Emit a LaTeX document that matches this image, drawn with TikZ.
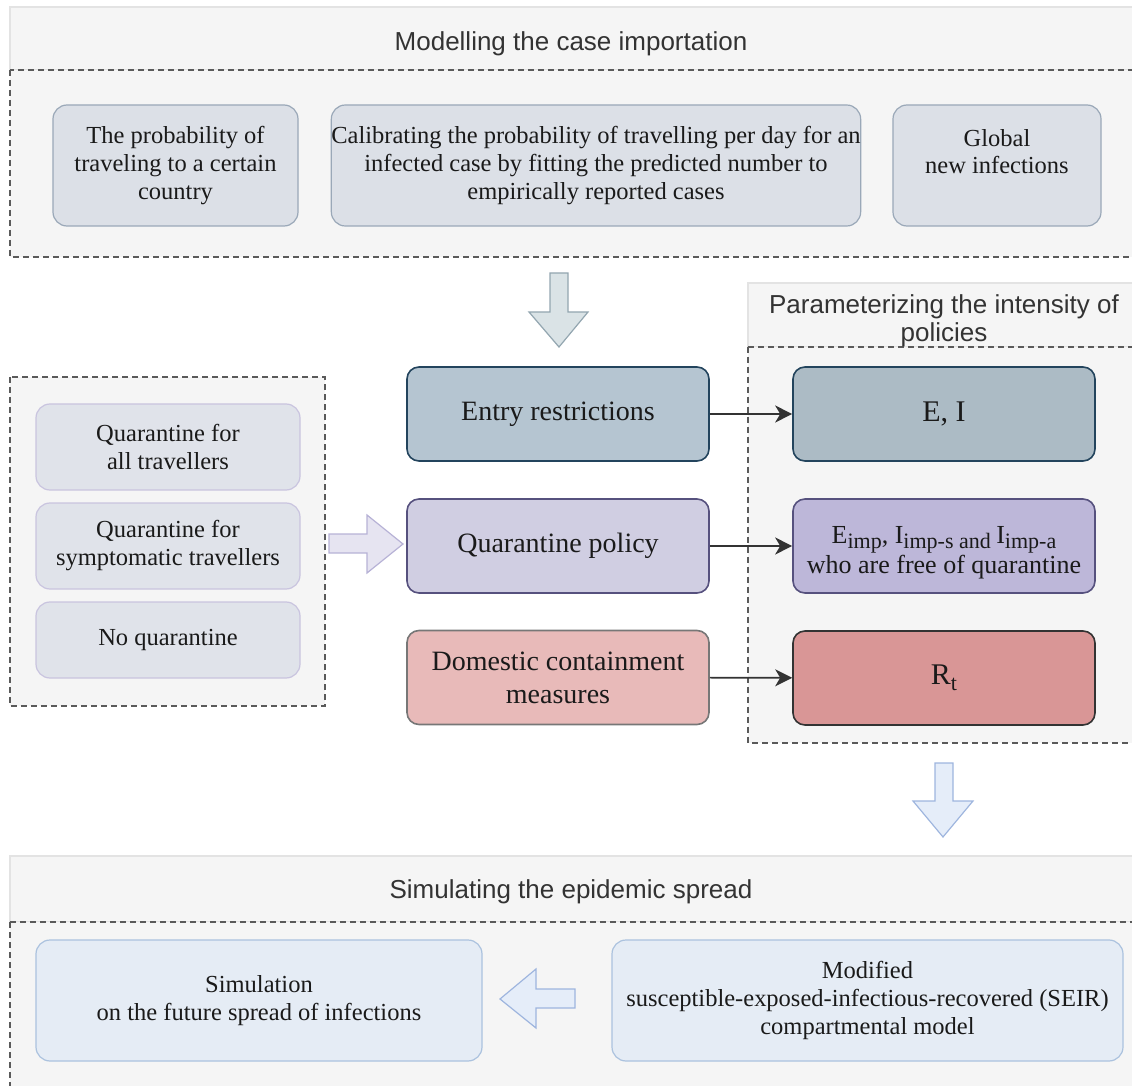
\documentclass[tikz,border=0pt]{standalone}
\usepackage{fontspec}
\setmainfont{Liberation Serif}
\setsansfont{Liberation Sans}
\usetikzlibrary{arrows.meta}
\definecolor{panelfill}{HTML}{F5F5F5}
\definecolor{panelline}{HTML}{E3E3E3}
\definecolor{dashline}{HTML}{5A5A5A}
\definecolor{headcol}{HTML}{333333}
\definecolor{textcol}{HTML}{1A1A1A}
\definecolor{linkcol}{HTML}{333333}
\definecolor{topfill}{HTML}{DCE0E7}
\definecolor{topline}{HTML}{9AA8B8}
\definecolor{leftfill}{HTML}{E0E3EA}
\definecolor{leftline}{HTML}{C9C4DF}
\definecolor{entryfill}{HTML}{B5C5D1}
\definecolor{eifill}{HTML}{ACBBC5}
\definecolor{entryline}{HTML}{23445D}
\definecolor{qpolfill}{HTML}{D0CEE2}
\definecolor{eimpfill}{HTML}{BDB7D9}
\definecolor{qpolline}{HTML}{56517E}
\definecolor{domfill}{HTML}{E8BAB9}
\definecolor{domline}{HTML}{777777}
\definecolor{rtfill}{HTML}{D99696}
\definecolor{rtline}{HTML}{333333}
\definecolor{simfill}{HTML}{E5ECF5}
\definecolor{simline}{HTML}{ABC2DE}
\definecolor{grayarrowfill}{HTML}{DAE3E6}
\definecolor{grayarrowline}{HTML}{93A6B0}
\definecolor{purparrowfill}{HTML}{E6E4F1}
\definecolor{purparrowline}{HTML}{B7B2D6}
\definecolor{bluearrowfill}{HTML}{E5EDF9}
\definecolor{bluearrowline}{HTML}{9EB5DE}
\def\bodytext{\fontsize{12.25}{14}\selectfont}
\def\bigtext{\fontsize{14}{16.5}\selectfont}
\def\midtext{\fontsize{13}{13.5}\selectfont}
\def\headtext{\sffamily\fontsize{13}{14}\selectfont}
\def\lowtext#1{\raisebox{-0.4ex}{\fontsize{11}{11}\selectfont #1}}

\begin{document}
\begin{tikzpicture}[x=0.5pt,y=-0.5pt,
  panelhead/.style={fill=panelfill,draw=panelline,line width=0.8pt},
  panelbody/.style={fill=panelfill,draw=dashline,line width=0.6pt,dash pattern=on 3pt off 2pt},
  headlabel/.style={font=\headtext,text=headcol,align=center},
  box/.style={rounded corners=7pt,align=center,inner sep=0pt,line width=0.6pt,text=textcol},
  smallbox/.style={box,font=\bodytext},
  midbox/.style={box,font=\bigtext,rounded corners=6pt,minimum width=151pt,minimum height=47pt,line width=0.8pt},
  link/.style={-{Stealth[length=8.5pt,width=8.5pt,inset=2.5pt]},draw=linkcol,line width=0.8pt},
  fatarrow/.style={line width=0.6pt,line join=miter}]
				\useasboundingbox (0,0) rectangle (1132,1086);
				\clip (0,0) rectangle (1132,1086);

				% panels
				\draw[panelhead] (10,7) rectangle (1140,70);
				\draw[panelbody] (10,70) rectangle (1140,257);
				\draw[panelhead] (748,283) rectangle (1140,347);
				\draw[panelbody] (748,347) rectangle (1140,743);
				\draw[panelbody] (10,377) rectangle (325,706);
				\draw[panelhead] (10,856) rectangle (1140,922);
				\draw[panelbody] (10,922) rectangle (1140,1100);

				\node[headlabel] (headimport) at (571,44) {Modelling the case importation};
				\node[headlabel] (headparam) at (944,321) {Parameterizing the intensity of\\policies};
				\node[headlabel] (headsim) at (571,892) {Simulating the epidemic spread};

				% case importation
				\node[smallbox,fill=topfill,draw=topline,minimum width=122.5pt,minimum height=60.5pt] (probtravel) at (175.5,165.5) {The probability of\\traveling to a certain\\country};
				\node[smallbox,fill=topfill,draw=topline,minimum width=264pt,minimum height=60.5pt] (calib) at (596,165.5) {Calibrating the probability of travelling per day for an\\infected case by fitting the predicted number to\\empirically reported cases};
				\node[smallbox,fill=topfill,draw=topline,minimum width=104pt,minimum height=60.5pt] (globalinf) at (997,165.5) {Global\\new infections\\~};

				% quarantine options
				\node[smallbox,fill=leftfill,draw=leftline,minimum width=132pt,minimum height=43pt] (qall) at (168,447) {Quarantine for\\all travellers};
				\node[smallbox,fill=leftfill,draw=leftline,minimum width=132pt,minimum height=43pt] (qsym) at (168,546) {Quarantine for\\symptomatic travellers};
				\node[smallbox,fill=leftfill,draw=leftline,minimum width=132pt,minimum height=38pt] (noq) at (168,640) {No quarantine};

				% policies
				\node[midbox,fill=entryfill,draw=entryline] (entry) at (558,414) {Entry restrictions};
				\node[midbox,fill=qpolfill,draw=qpolline] (qpol) at (558,546) {Quarantine policy};
				\node[midbox,fill=domfill,draw=domline] (domestic) at (558,677.5) {Domestic containment\\measures};

				\node[midbox,fill=eifill,draw=entryline,font=\fontsize{15}{16}\selectfont] (ei) at (944,414) {E, I};
				\node[midbox,fill=eimpfill,draw=qpolline,font=\midtext] (eimp) at (944,546) {\rule{0pt}{15pt}E\lowtext{imp}, I\lowtext{imp-s and }I\lowtext{imp-a}\\who are free of quarantine};
				\node[midbox,fill=rtfill,draw=rtline,font=\fontsize{15}{16}\selectfont] (rt) at (944,678) {R\lowtext{t}};

				\draw[link] (entry) -- (ei);
				\draw[link] (qpol) -- (eimp);
				\draw[link] (domestic) -- (rt);

				% simulation
				\node[smallbox,fill=simfill,draw=simline,minimum width=223pt,minimum height=60.5pt] (simulation) at (259,1000.5) {Simulation\\on the future spread of infections};
				\node[smallbox,fill=simfill,draw=simline,minimum width=255.5pt,minimum height=60.5pt] (seir) at (867.5,1000.5) {Modified\\susceptible-exposed-infectious-recovered (SEIR)\\compartmental model};

				% block arrows
				\draw[fatarrow,fill=grayarrowfill,draw=grayarrowline] (550,273) -- (568,273) -- (568,312) -- (588,312) -- (559,347) -- (529,312) -- (550,312) -- cycle;
				\draw[fatarrow,fill=purparrowfill,draw=purparrowline] (329,534) -- (367,534) -- (367,515) -- (403,544) -- (367,573) -- (367,553) -- (329,553) -- cycle;
				\draw[fatarrow,fill=bluearrowfill,draw=bluearrowline] (935,763) -- (953,763) -- (953,801) -- (973,801) -- (943,837) -- (913,801) -- (935,801) -- cycle;
				\draw[fatarrow,fill=bluearrowfill,draw=bluearrowline] (575,989) -- (536,989) -- (536,969) -- (500,999) -- (536,1028) -- (536,1008) -- (575,1008) -- cycle;
\end{tikzpicture}
\end{document}
